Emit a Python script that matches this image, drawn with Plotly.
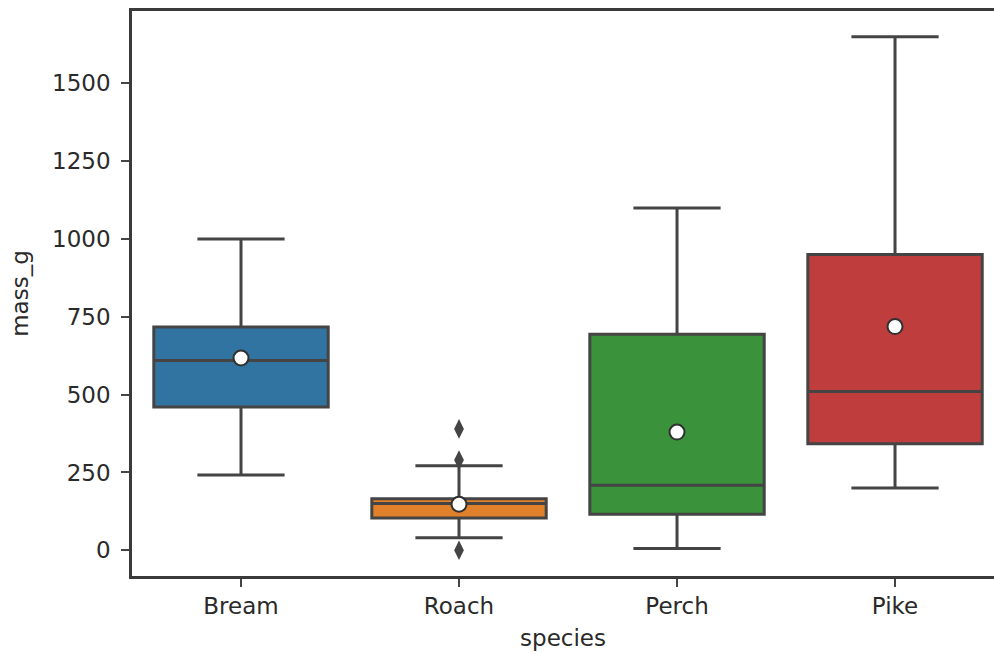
import plotly.graph_objects as go

# Summary statistics of fish mass (g) per species
species = ["Bream", "Roach", "Perch", "Pike"]
q1 = [460, 104, 116, 342]
median = [610, 150, 209, 510]
q3 = [717, 166, 694, 950]
lower_whisker = [242, 40, 5.9, 200]
upper_whisker = [1000, 272, 1100, 1650]
means = [617.8, 148, 380, 718.7]

# Points beyond the whiskers
outlier_species = ["Roach", "Roach", "Roach"]
outlier_mass = [390, 290, 0]

fill_colors = ["#3274a1", "#e1812c", "#3a923a", "#c03d3e"]
edge = "#444444"
text_color = "#2a2a2a"

fig = go.Figure()

for i, sp in enumerate(species):
    fig.add_trace(go.Box(
        x=[sp],
        q1=[q1[i]], median=[median[i]], q3=[q3[i]],
        lowerfence=[lower_whisker[i]], upperfence=[upper_whisker[i]],
        fillcolor=fill_colors[i],
        line=dict(color=edge, width=3),
        width=0.8,
        whiskerwidth=0.5,
        boxpoints=False,
        hoverinfo="skip",
        showlegend=False,
    ))

fig.add_trace(go.Scatter(
    x=outlier_species, y=outlier_mass, mode="markers",
    marker=dict(symbol="diamond-tall", size=14, color=edge,
                line=dict(width=0)),
    showlegend=False, hoverinfo="skip",
))

fig.add_trace(go.Scatter(
    x=species, y=means, mode="markers",
    marker=dict(symbol="circle", size=15, color="white",
                line=dict(color="#303030", width=2)),
    showlegend=False, hoverinfo="skip",
))

font = dict(family="DejaVu Sans", size=23, color=text_color)

fig.update_layout(
    width=994, height=654,
    margin=dict(l=132, r=0, t=11, b=78),
    paper_bgcolor="white", plot_bgcolor="white",
    font=font,
    xaxis=dict(
        type="category", categoryorder="array", categoryarray=species,
        range=[-0.5, 3.454],
        showgrid=False, zeroline=False,
        showline=True, linecolor="#3a3a3a", linewidth=2.5, mirror=True,
        ticks="outside", ticklen=8, tickwidth=1.5, tickcolor=edge,
        tickfont=font,
        title=dict(text="species", font=font, standoff=12),
    ),
    yaxis=dict(
        range=[-82.5, 1732.5],
        tickvals=[0, 250, 500, 750, 1000, 1250, 1500],
        showgrid=False, zeroline=False,
        showline=True, linecolor="#3a3a3a", linewidth=2.5, mirror=False,
        ticks="outside", ticklen=8, tickwidth=1.5, tickcolor=edge,
        ticklabelstandoff=6,
        tickfont=font,
        title=dict(text="mass_g", font=font, standoff=18),
    ),
)

fig.write_html("out.html")
